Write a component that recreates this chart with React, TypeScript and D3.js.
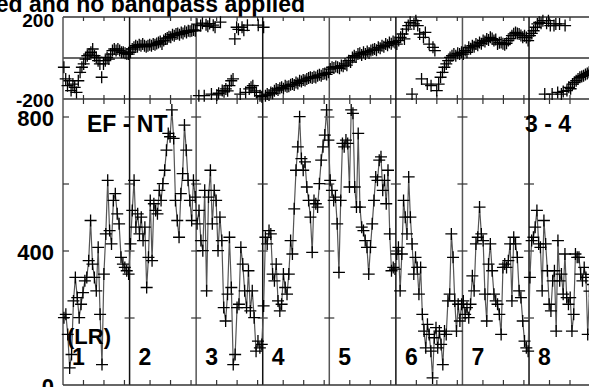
import React from 'react';
import * as d3 from 'd3';

const W = 589;
const H = 387;
const SEG_LEN = 3.25;
const segLabels = ['1', '2', '3', '4', '5', '6', '7', '8'];
const ampTickValues = [200, 400, 600, 800];
const ampTickLabels = [0, 400, 800];
const phaseTickLabels = [200, -200];
const titleText = 'ed and no bandpass applied';
const baselineLabel = 'EF - NT';
const polLabel = '(LR)';
const rangeLabel = '3 - 4';

// amplitude per segment
const amp1 = [201, 211, 151, 51, 91, 251, 321, 261, 201, 241, 276, 311, 321, 371, 491, 361, 321, 281, 411, 211, 61, 331, 451, 611, 461, 421, 551, 571, 511, 481, 381, 361, 351, 341, 331];
const amp2 = [421, 521, 611, 471, 511, 451, 501, 431, 471, 291, 381, 551, 371, 541, 521, 511, 581, 551, 601, 641, 701, 751, 741, 821, 736, 551, 491, 441, 571, 631, 776, 701, 611, 551, 491, 611, 561];
const amp3 = [481, 521, 431, 401, 581, 281, 561, 641, 481, 581, 551, 401, 501, 431, 231, 191, 271, 441, 291, 61, 91, 231, 241, 411, 361, 281, 231, 341, 221, 281, 201, 101, 131, 111, 121];
const amp4 = [236, 441, 421, 461, 451, 331, 311, 361, 251, 221, 241, 331, 291, 271, 331, 431, 391, 526, 641, 711, 801, 676, 641, 666, 591, 551, 501, 396, 551, 541, 531, 601, 671, 711, 746, 821, 731];
const amp5 = [611, 581, 551, 561, 481, 336, 551, 721, 711, 731, 721, 591, 821, 811, 591, 531, 751, 531, 471, 461, 431, 411, 331, 411, 481, 551, 621, 611, 671, 681, 581, 611, 541, 641, 451, 341, 351, 346];
const amp6 = [391, 411, 281, 391, 551, 501, 451, 621, 501, 421, 331, 381, 351, 271, 351, 211, 161, 111, 181, 151, 101, 21, 141, 171, 111, 161, 121, 61, 161, 151, 251, 271, 451, 381, 251, 161, 241, 191, 241];
const amp7 = [251, 211, 231, 201, 241, 326, 281, 421, 441, 531, 451, 431, 271, 191, 361, 421, 341, 271, 251, 241, 211, 151, 351, 361, 351, 371, 421, 251, 441, 421, 381, 281, 261, 191, 131, 111, 101];
const amp8 = [321, 431, 441, 471, 521, 421, 411, 281, 491, 421, 341, 241, 221, 311, 341, 161, 431, 311, 331, 271, 391, 261, 241, 261, 161, 211, 391, 381, 381, 331, 311, 351, 321, 151, 280, 330, 300, 350];

// phase per segment
const ph1 = [-45, -102, -135, -111, -159, -127, -143, -168, -111, -70, -45, -29, -5, 11, 19, 28, 44, 11, 3, -13, -29, -94, -29, -13, 3, -5, 19, 36, 44, 36, 44, 36, 28, 28, 23, 19, 19];
const ph2 = [28, 44, 52, 60, 55, 65, 60, 68, 60, 55, 60, 65, 60, 68, 65, 71, 76, 81, 68, 85, 93, 98, 104, 101, 114, 109, 117, 120, 114, 125, 120, 130, 125, 133, 130, 133, 137, 133];
const ph3 = [165, -184, 158, 170, -184, 162, 155, 168, -176, 160, 150, -180, -172, 175, -159, -165, -151, -160, -135, -111, -102, 93, 150, 140, -176, 150, 135, -168, 160, -151, -143, -135, -160, -168, 160, -184, -189];
const ph4 = [150, -184, -176, -180, -168, -172, -160, -151, -156, -148, -143, -150, -135, -140, -138, -130, -127, -132, -119, -124, -111, -115, -107, -110, -102, -98, -94, -97, -91, -95, -86, -82, -86, -78, -75, -80, -70];
const ph5 = [-54, -45, -49, -42, -45, -50, -37, -40, -29, -35, -13, -20, 3, 11, 5, 19, 23, 15, 28, 19, 32, 25, 36, 40, 44, 38, 52, 48, 60, 55, 68, 62, 76, 70, 80, 76];
const ph6 = [68, 85, 101, 117, 93, 141, 158, 174, -176, 166, 182, 158, 117, -102, 101, 125, -127, 68, -135, 52, 36, -159, -127, -94, -70, -45, -29, -13, 3, 11, 19, 11, 23, 19, 28];
const ph7 = [19, 36, 28, 52, 45, 60, 55, 68, 62, 76, 70, 85, 80, 93, 88, 101, 95, 85, 90, 68, 75, 76, 70, 65, 72, 85, 95, 109, 118, 125, 120, 117, 110, 101, 109, 100, 85];
const ph8 = [109, 120, 133, 150, 166, 174, 169, 182, -176, 169, 182, 158, -176, 158, 166, -168, 166, -176, -163, 158, -159, -143, -150, -127, -119, -111, -102, -94, -90, -86, -80, -75, -70, -65, -60, -55];

const ampSegments = [amp1, amp2, amp3, amp4, amp5, amp6, amp7, amp8];
const phaseSegments = [ph1, ph2, ph3, ph4, ph5, ph6, ph7, ph8];

const FONT = "'Liberation Sans', Arial, Helvetica, sans-serif";

function toPoints(segs: number[][]) {
  const pts: { t: number; v: number }[] = [];
  segs.forEach((vals, s) => {
    vals.forEach((v, k) => {
      pts.push({ t: s * SEG_LEN + ((k + 0.5) / vals.length) * SEG_LEN, v });
    });
  });
  return pts;
}

export default function App() {
  const nSeg = ampSegments.length;
  const x = d3.scaleLinear().domain([0, nSeg * SEG_LEN]).range([63, 595.6]);
  const yA = d3.scaleLinear().domain([0, 800]).range([385, 117]);
  const yP = d3.scaleLinear().domain([-200, 200]).range([99, 17]);

  const ampPts = toPoints(ampSegments);
  const phPts = toPoints(phaseSegments);
  const line = d3
    .line<{ t: number; v: number }>()
    .x((d) => x(d.t))
    .y((d) => yA(d.v));

  const bounds = d3.range(0, nSeg + 1).map((s) => s * SEG_LEN);
  const minor: number[] = [];
  for (let s = 0; s < nSeg; s++) for (let j = 1; j <= 3; j++) minor.push(s * SEG_LEN + j);

  const ampTop = yA.invert(99);
  const cross = 'M-6,0H6M0,-6V6';
  const axisColor = '#333';

  return (
    <svg
      width={W}
      height={H}
      style={{ position: 'absolute', left: 0, top: 0, background: '#fff' }}
      fontFamily={FONT}
      fontWeight="bold"
    >
      <rect width={W} height={H} fill="#fff" />
      {/* title */}
      <text x={305} y={12} fontSize={23} textAnchor="end" fill="#000">
        {titleText}
      </text>

      {/* top panel frame */}
      <line x1={x(0)} x2={x(nSeg * SEG_LEN)} y1={yP(200)} y2={yP(200)} stroke={axisColor} strokeWidth={1.5} />
      <line x1={x(0)} x2={x(nSeg * SEG_LEN)} y1={yP(0)} y2={yP(0)} stroke={axisColor} strokeWidth={1.5} />
      <line x1={x(0)} x2={x(nSeg * SEG_LEN)} y1={yP(-200)} y2={yP(-200)} stroke={axisColor} strokeWidth={1.5} />
      {bounds.map((b, i) => (
        <line key={'vb' + i} x1={x(b)} x2={x(b)} y1={yP(200)} y2={yA(0)} stroke={i % 2 === 0 ? '#555' : '#111'} strokeWidth={1.5} />
      ))}
      {minor.map((t, i) => (
        <g key={'mt' + i} stroke={axisColor} strokeWidth={1.2}>
          <line x1={x(t)} x2={x(t)} y1={yP(200)} y2={yP(200) + 4} />
          <line x1={x(t)} x2={x(t)} y1={yP(-200) - 4} y2={yP(-200) + 5} />
          <line x1={x(t)} x2={x(t)} y1={yA(0)} y2={yA(0) - 5} />
        </g>
      ))}
      {/* bottom axis line */}
      <line x1={x(0)} x2={x(nSeg * SEG_LEN)} y1={yA(0)} y2={yA(0)} stroke={axisColor} strokeWidth={1.5} />
      {/* amplitude ticks */}
      {ampTickValues.map((v) => (
        <g key={'at' + v} stroke={axisColor} strokeWidth={1.2}>
          <line x1={x(0)} x2={x(0) + 6} y1={yA(v)} y2={yA(v)} />
          {bounds.slice(1).map((b, i) => (
            <line key={i} x1={x(b) - 5} x2={x(b) + 5} y1={yA(v)} y2={yA(v)} />
          ))}
        </g>
      ))}

      {/* phase markers */}
      <g stroke="#000" strokeWidth={1.3} fill="none">
        {phPts.map((d, i) => (
          <path key={'p' + i} d={cross} transform={`translate(${x(d.t)},${yP(d.v)})`} />
        ))}
      </g>

      {/* amplitude line + markers */}
      <path d={line(ampPts) || ''} fill="none" stroke="#555" strokeWidth={1.2} />
      <g stroke="#000" strokeWidth={1.3} fill="none">
        {ampPts.map((d, i) => (
          <path key={'a' + i} d={cross} transform={`translate(${x(d.t)},${yA(Math.min(d.v, ampTop))})`} />
        ))}
      </g>

      {/* y labels */}
      {phaseTickLabels.map((v) => (
        <text key={'pl' + v} x={54} y={v > 0 ? 27 : 107} fontSize={19} textAnchor="end" fill="#000">
          {v}
        </text>
      ))}
      {ampTickLabels.map((v) => (
        <text key={'al' + v} x={54} y={yA(v) + 9} fontSize={22} textAnchor="end" fill="#000">
          {v}
        </text>
      ))}

      {/* annotations */}
      <text x={87} y={132} fontSize={23} fill="#000">{baselineLabel}</text>
      <text x={525} y={132} fontSize={23} fill="#000">{rangeLabel}</text>
      <text x={67} y={344} fontSize={22} fill="#000">{polLabel}</text>
      {segLabels.map((s, i) => (
        <text key={'s' + i} x={x(bounds[i]) + 9} y={365} fontSize={23} fill="#000">
          {s}
        </text>
      ))}
    </svg>
  );
}
